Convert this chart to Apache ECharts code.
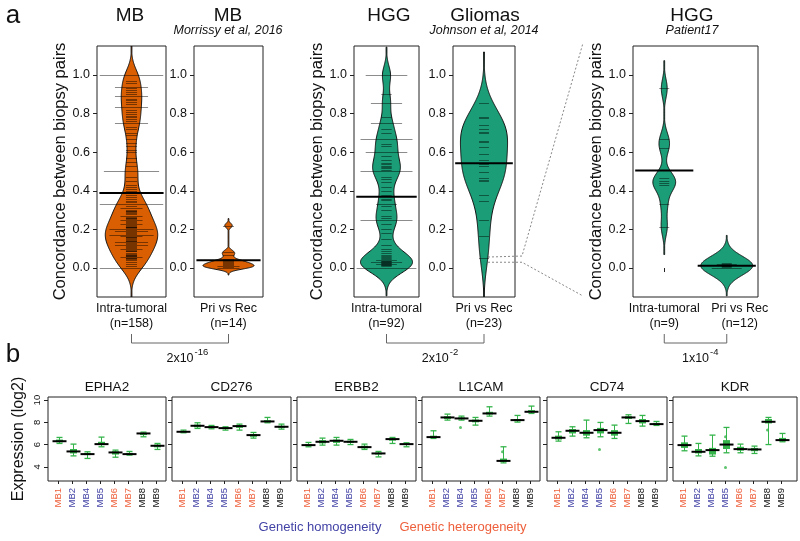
<!DOCTYPE html>
<html><head><meta charset="utf-8">
<script src="https://cdn.jsdelivr.net/npm/echarts@6/dist/echarts.min.js"></script>
<style>html,body{margin:0;padding:0;background:#fff}#c{width:800px;height:541px}</style>
</head><body><div id="c"></div>
<script>
// ---------------- DATA (panel a: concordance values per bean) ----------------
const mbIntra = [
 1,1,1,1,1,1, 0.97,0.96, 0.94,0.94,0.94, 0.93,0.92,0.91, 0.889,0.889,0.889, 0.9,0.875,0.87,0.86,
 0.833,0.833,0.833, 0.85,0.82,0.81,0.8,0.79,0.78, 0.77,0.76, 0.75,0.75,0.75, 0.73,0.72,0.7,0.69,
 0.667,0.65,0.63, 0.61,0.6, 0.57,0.55,0.53, 0.5,0.5,0.5,0.5,0.5, 0.47,0.45,0.43, 0.42,0.41,0.4,0.38, 0.37,0.36,
 0.333,0.333,0.333,0.333,0.333,0.333,
 0.345,0.34,0.32,0.31,0.3,0.295,0.293,0.29,0.285,0.28,
 0.27,0.265,0.26,0.259,0.255,0.25,0.25,0.245,0.24,0.235,0.23,0.225,
 0.22,0.215,0.212,0.21,0.205,0.2,0.2,0.2,0.195,0.19,0.19,0.19,0.185,0.18,
 0.175,0.17,0.17,0.17,0.17,0.165,0.16,0.159,0.155,0.15,0.145,0.14,0.138,0.133,0.133,0.133,0.13,
 0.125,0.12,0.12,0.115,0.11,0.105,0.1,0.1,0.095,0.09,0.086,0.08,0.075,
 0.07,0.065,0.064,0.06,0.055,0.052,0.05,0.045,0.04,
 0.03,0.02,0.01,0,0,0,0,0,0,
 0.31,0.27,0.23,0.2,0.165,0.12,0.055
];
const mbPriRec = [0.22,0.085,0.07,0.045,0.035,0.03,0.025,0.02,0.015,0.01,0.01,0.005,0,0];
const hggIntra = [
 1,1,1,1, 0.9, 0.857,0.857,0.857, 0.75,0.75,0.75, 0.78,0.72,0.7, 0.667,0.667,0.667,0.667,0.667,
 0.64,0.63, 0.6,0.6,0.6,0.6, 0.58,0.56,0.545,0.54,0.53,0.525,0.52,0.51, 0.5,0.5,0.5,0.5,0.5,
 0.47,0.46,0.445, 0.42,0.4, 0.38,0.36,0.35, 0.333,0.333, 0.32,0.3, 0.27,0.26, 0.25,0.25,0.25,0.25,0.25,
 0.23, 0.2,0.18,0.15,0.12,0.1,
 0.09,0.08,0.07,0.06,0.055,0.05,0.045,0.04,0.038,0.035,0.033,0.03,0.03,0.028,0.025,0.022,0.02,0.018,0.015,0.01,
 0,0,0,0,0,0, 0.03,0.02,0.04
];
const gliomaPriRec = [0.855,0.78,0.778,0.743,0.72,0.703,0.7,0.66,0.652,0.629,0.59,0.557,0.54,0.528,0.497,0.466,0.455,0.45,0.376,0.347,0.25,0.166,0.053];
const p17Intra = [0.93,0.667,0.623,0.468,0.45,0.44,0.43,0.33,0.214];
const p17PriRec = [0,0,0,0.005,0.01,0.012,0.015,0.018,0.02,0.02,0.022,0.025];

const catsMB = ['Intra-tumoral\n(n=158)'];
const catsMBPR = ['Pri vs Rec\n(n=14)'];
const catsHGG = ['Intra-tumoral\n(n=92)'];
const catsGli = ['Pri vs Rec\n(n=23)'];
const catsP17 = ['Intra-tumoral\n(n=9)', 'Pri vs Rec\n(n=12)'];
const yTicksA = [0, 0.2, 0.4, 0.6, 0.8, 1.0];
const pvals = [['2x10', '-16'], ['2x10', '-2'], ['1x10', '-4']];

// ---------------- DATA (panel b: expression, [min, q1, median, q3, max]) ----------------
const samples = ['MB1','MB2','MB4','MB5','MB6','MB7','MB8','MB9'];
const sampleGroup = ['het','hom','hom','hom','het','het','none','none'];
const genes = ['EPHA2','CD276','ERBB2','L1CAM','CD74','KDR'];
const epha2 = [[6.1,6.2,6.3,6.45,6.64],[4.98,5.2,5.38,5.6,6.04],[4.75,5.05,5.14,5.25,5.35],[5.8,5.95,6.04,6.25,6.67],
 [4.86,5.1,5.29,5.4,5.5],[5.05,5.1,5.14,5.25,5.38],[6.7,6.85,7.0,7.05,7.12],[5.56,5.75,5.89,6.0,6.1]];
const cd276 = [[7.06,7.1,7.15,7.22,7.3],[7.45,7.55,7.69,7.8,7.96],[7.42,7.5,7.57,7.65,7.72],[7.3,7.4,7.48,7.53,7.6],
 [7.3,7.5,7.66,7.75,7.84],[6.58,6.7,6.85,6.95,7.09],[7.96,8.0,8.08,8.2,8.44],[7.39,7.5,7.6,7.7,7.84]];
const erbb2 = [[5.8,5.9,5.95,6.05,6.19],[5.95,6.1,6.25,6.4,6.58],[5.95,6.15,6.34,6.45,6.64],[6.0,6.15,6.25,6.35,6.46],
 [5.56,5.65,5.77,5.9,6.04],[4.89,5.1,5.2,5.28,5.38],[6.1,6.35,6.49,6.55,6.64],[5.8,5.95,6.04,6.1,6.16]];
const l1cam = [[6.55,6.6,6.67,6.8,7.24],[8.2,8.3,8.44,8.55,8.74],[8.2,8.28,8.35,8.45,8.56],[7.75,8.0,8.14,8.25,8.44],
 [8.56,8.7,8.8,8.95,9.4],[4.35,4.45,4.53,4.74,5.8],[8.02,8.1,8.2,8.3,8.62],[8.8,8.9,8.95,9.1,9.46]];
const cd74 = [[6.31,6.45,6.61,6.8,7.15],[6.76,7.0,7.24,7.4,7.6],[6.61,6.8,7.06,7.3,8.2],[6.7,7.0,7.3,7.5,7.99],
 [6.55,6.8,7.06,7.3,7.75],[7.9,8.3,8.44,8.55,8.68],[7.66,7.9,8.11,8.3,8.62],[7.72,7.78,7.84,7.95,8.08]];
const kdr = [[5.44,5.7,5.95,6.2,6.76],[4.98,5.2,5.35,5.6,6.1],[4.95,5.1,5.5,5.7,6.85],[5.26,5.6,6.0,6.4,7.54],
 [5.26,5.45,5.59,5.8,6.04],[5.2,5.4,5.56,5.7,5.86],[6.0,7.9,8.05,8.3,8.44],[6.25,6.3,6.4,6.6,7.0]];
const geneData = [epha2, cd276, erbb2, l1cam, cd74, kdr];
// outlier points: [gene index, sample position (1-based), value]
const outliers = [[3,3,7.54],[3,6,5.35],[4,4,5.56],[5,4,3.93],[5,7,7.3],[5,4,6.7]];
const yTicksB = [4, 6, 8, 10];

// ---------------- STYLE ----------------
const FONT = '"Liberation Sans", Arial, Helvetica, sans-serif';
const ORANGE = '#D95F02', GREEN = '#1B9E77', BGREEN = '#34B44A';
const GROUPCOL = {het:'#EE5F3B', hom:'#4343A6', none:'#111111'};

const panelsA = [
  {left:97, width:69, cats:catsMB, beans:[mbIntra], bw:[0.05], color:ORANGE, maxw:0.76, yName:true},
  {left:194, width:69, cats:catsMBPR, beans:[mbPriRec], bw:[0.012], color:ORANGE, maxw:0.74, yName:false},
  {left:354, width:65, cats:catsHGG, beans:[hggIntra], bw:[0.048], color:GREEN, maxw:0.8, yName:true},
  {left:453, width:62, cats:catsGli, beans:[gliomaPriRec], bw:[0.088], color:GREEN, maxw:0.76, yName:false},
  {left:633, width:125, cats:catsP17, beans:[p17Intra, p17PriRec], bw:[0.048,0.048], color:GREEN, maxw:0.83, yName:true}
];
const A_TOP = 46, A_H = 251;
const B_TOP = 397, B_H = 84;
const panelsB = [
  {left:48, width:118},{left:172, width:119},{left:297, width:119},
  {left:422, width:118},{left:547, width:120},{left:673, width:124}
];

function kde(vals, bw) {
  const lo = Math.min(...vals) - 3*bw, hi = Math.max(...vals) + 3*bw;
  const N = 260, out = [];
  const norm = 1/(vals.length*bw*Math.sqrt(2*Math.PI));
  for (let i = 0; i <= N; i++) {
    const y = lo + (hi-lo)*i/N; let s = 0;
    for (const v of vals) { const z = (y-v)/bw; s += Math.exp(-0.5*z*z); }
    out.push([y, s*norm]);
  }
  return out;
}
function uniqCounts(vals) {
  const m = new Map();
  vals.forEach(v => { const k = Math.round(v*1000)/1000; m.set(k, (m.get(k)||0)+1); });
  return Array.from(m.entries());
}

const grids = [], xAxes = [], yAxes = [], series = [];

panelsA.forEach((p, gi) => {
  grids.push({left:p.left, top:A_TOP, width:p.width, height:A_H, show:true, borderColor:'#222', borderWidth:1, backgroundColor:'transparent'});
  xAxes.push({type:'category', gridIndex:gi, data:p.cats, boundaryGap:true,
    axisLine:{show:false}, axisTick:{show:true, alignWithLabel:true, length:4, lineStyle:{color:'#222'}},
    axisLabel:{fontFamily:FONT, fontSize:12.5, color:'#111', lineHeight:15, margin:4, interval:0,
      formatter: (v, i) => (gi === 4 && i === 1) ? v.split('\n').map(s => '{s|' + s + '}').join('\n') : v,
      rich:{s:{padding:[0,0,0,26], fontFamily:FONT, fontSize:12.5, color:'#111', lineHeight:15}}},
    splitLine:{show:false}});
  yAxes.push({type:'value', gridIndex:gi, min:-0.15, max:1.15,
    axisLine:{show:false}, splitLine:{show:false},
    axisTick:{show:true, length:4, customValues:yTicksA, lineStyle:{color:'#222'}},
    axisLabel:{customValues:yTicksA, formatter: v => v.toFixed(1), fontFamily:FONT, fontSize:12.5, color:'#111', margin:7},
    name: p.yName ? 'Concordance between biopsy pairs' : '', nameLocation:'middle', nameGap:25,
    nameTextStyle:{fontFamily:FONT, fontSize:16.5, color:'#111'}});
  const dens = p.beans.map((b, j) => kde(b, p.bw[j]));
  let maxD = 0; dens.forEach(d => d.forEach(q => { if (q[1] > maxD) maxD = q[1]; }));
  p.beans.forEach((vals, j) => {
    const dj = dens[j];
    series.push({type:'custom', xAxisIndex:gi, yAxisIndex:gi, clip:true, silent:true, z:2,
      data:[[j, 0]],
      renderItem:(params, api) => {
        const band = api.size([1, 0])[0];
        const cx = api.coord([j, 0])[0];
        const L = [], R = [];
        dj.forEach(([y, d]) => {
          const py = api.coord([j, y])[1];
          const hw = Math.max(0.4, d/maxD*band*p.maxw/2);
          L.push([cx-hw, py]); R.push([cx+hw, py]);
        });
        return {type:'polygon', shape:{points:L.concat(R.reverse())}, style:{fill:p.color, stroke:'#111', lineWidth:1}};
      }});
    series.push({type:'custom', xAxisIndex:gi, yAxisIndex:gi, clip:true, silent:true, z:3,
      data: uniqCounts(vals).map(([v, c]) => [j, v, c]),
      renderItem:(params, api) => {
        const band = api.size([1, 0])[0];
        const c = api.coord([api.value(0), api.value(1)]);
        const len = Math.min(api.value(2)*0.16, 0.92)*band;
        const y = Math.round(c[1]) + 0.5;
        return {type:'line', shape:{x1:c[0]-len/2, y1:y, x2:c[0]+len/2, y2:y}, style:{stroke:'rgba(0,0,0,0.45)', lineWidth:1}};
      }});
    const mean = vals.reduce((a, b) => a + b, 0)/vals.length;
    series.push({type:'custom', xAxisIndex:gi, yAxisIndex:gi, clip:true, silent:true, z:4,
      data:[[j, mean]],
      renderItem:(params, api) => {
        const band = api.size([1, 0])[0];
        const c = api.coord([api.value(0), api.value(1)]);
        const len = 0.93*band;
        return {type:'line', shape:{x1:c[0]-len/2, y1:c[1], x2:c[0]+len/2, y2:c[1]}, style:{stroke:'#000', lineWidth:2}};
      }});
  });
});

const sampleTicks = samples.map((s, i) => i + 1);
panelsB.forEach((p, k) => {
  const gi = panelsA.length + k;
  grids.push({left:p.left, top:B_TOP, width:p.width, height:B_H, show:true, borderColor:'#222', borderWidth:1, backgroundColor:'transparent'});
  xAxes.push({type:'value', gridIndex:gi, min:0.25, max:0.25 + p.width/14,
    axisLine:{show:false}, splitLine:{show:false},
    axisTick:{show:true, customValues:sampleTicks, length:3, lineStyle:{color:'#222'}},
    axisLabel:{customValues:sampleTicks, rotate:90, margin:7,
      formatter: v => { const i = Math.round(v) - 1; return '{' + sampleGroup[i] + '|' + samples[i] + '}'; },
      rich:{
        het:{color:GROUPCOL.het, fontFamily:FONT, fontSize:9.5},
        hom:{color:GROUPCOL.hom, fontFamily:FONT, fontSize:9.5},
        none:{color:GROUPCOL.none, fontFamily:FONT, fontSize:9.5}}}});
  yAxes.push({type:'value', gridIndex:gi, min:2.72, max:10.28,
    axisLine:{show:false}, splitLine:{show:false},
    axisTick:{show:true, customValues:yTicksB, length:4, lineStyle:{color:'#222'}},
    axisLabel:{show:k === 0, customValues:yTicksB, rotate:90, fontFamily:FONT, fontSize:9.5, color:'#111', margin:6},
    name: k === 0 ? 'Expression (log2)' : '', nameLocation:'middle', nameGap:21,
    nameTextStyle:{fontFamily:FONT, fontSize:16, color:'#111'}});
  series.push({type:'custom', xAxisIndex:gi, yAxisIndex:gi, silent:true, z:3,
    data: geneData[k].map((a, i) => [i + 1].concat(a)),
    renderItem:(params, api) => {
      const x = api.value(0);
      const pMin = api.coord([x, api.value(1)]), pQ1 = api.coord([x, api.value(2)]),
            pMed = api.coord([x, api.value(3)]), pQ3 = api.coord([x, api.value(4)]), pMax = api.coord([x, api.value(5)]);
      const cx = Math.round(pMed[0]) + 0.5;
      return {type:'group', children:[
        {type:'line', shape:{x1:cx, y1:pMin[1], x2:cx, y2:pMax[1]}, style:{stroke:BGREEN, lineWidth:1}},
        {type:'line', shape:{x1:cx-3, y1:pMin[1], x2:cx+3, y2:pMin[1]}, style:{stroke:BGREEN, lineWidth:1.3}},
        {type:'line', shape:{x1:cx-3, y1:pMax[1], x2:cx+3, y2:pMax[1]}, style:{stroke:BGREEN, lineWidth:1.3}},
        {type:'rect', shape:{x:cx-3.5, y:pQ3[1], width:7, height:Math.max(1, pQ1[1]-pQ3[1])}, style:{fill:BGREEN}},
        {type:'line', shape:{x1:cx-7, y1:pMed[1], x2:cx+7, y2:pMed[1]}, style:{stroke:'#000', lineWidth:2}}
      ]};
    }});
  series.push({type:'scatter', xAxisIndex:gi, yAxisIndex:gi, silent:true, z:4, symbolSize:3,
    itemStyle:{color:BGREEN},
    data: outliers.filter(o => o[0] === k).map(o => [o[1], o[2]])});
});

const chart = echarts.init(document.getElementById('c'), null, {renderer:'canvas'});
chart.setOption({animation:false, backgroundColor:'#fff', grid:grids, xAxis:xAxes, yAxis:yAxes, series:series});

// ---------------- annotations ----------------
function txt(x, y, text, size, opts) {
  opts = opts || {};
  const al = opts.align || 'center';
  return {type:'text', x:x, y:y, silent:true, z:10, style:{text:text,
    font:(opts.italic ? 'italic ' : '') + size + 'px ' + FONT, fill:opts.color || '#111',
    align:al, verticalAlign:'middle', textAlign:al, textVerticalAlign:'middle'}};
}
const px = (gi, x, y) => chart.convertToPixel({xAxisIndex:gi, yAxisIndex:gi}, [x, y]);
const g = [];
g.push(txt(13, 16, 'a', 26), txt(13, 355, 'b', 26));
g.push(txt(130, 16, 'MB', 19), txt(228, 16, 'MB', 19), txt(228, 31, 'Morrissy et al, 2016', 12.5, {italic:true}));
g.push(txt(389, 16, 'HGG', 19), txt(485, 16, 'Gliomas', 19), txt(484, 31, 'Johnson et al, 2014', 12.5, {italic:true}));
g.push(txt(692, 16, 'HGG', 19), txt(692, 31, 'Patient17', 12.5, {italic:true}));
const brackets = [[[0,0],[1,0]], [[2,0],[3,0]], [[4,0],[4,1]]];
brackets.forEach((b, i) => {
  const x1 = px(b[0][0], b[0][1], 0)[0], x2 = px(b[1][0], b[1][1], 0)[0];
  g.push({type:'polyline', silent:true, shape:{points:[[x1,334],[x1,343],[x2,343],[x2,334]]}, style:{stroke:'#666', lineWidth:1, fill:null}});
  const mid = (x1 + x2)/2;
  g.push(txt(mid, 359, pvals[i][0], 12.5), txt(mid + 14.5, 352, pvals[i][1], 9.5, {align:'left'}));
});
// dotted zoom lines from Gliomas bean to Patient17 panel
const gl = px(3, 0, 0.057), gl2 = px(3, 0, 0.03);
g.push({type:'polyline', silent:true, shape:{points:[[gl[0]+4, gl[1]],[522, gl[1]-1],[583, 43]]}, style:{stroke:'#888', lineWidth:1, lineDash:[2,2], fill:null}});
g.push({type:'polyline', silent:true, shape:{points:[[gl2[0]+4, gl2[1]],[522, gl2[1]],[583, 296]]}, style:{stroke:'#888', lineWidth:1, lineDash:[2,2], fill:null}});
panelsB.forEach((p, k) => g.push(txt(p.left + p.width/2, 387, genes[k], 13.5)));
g.push(txt(320, 527, 'Genetic homogeneity', 13, {color:GROUPCOL.hom}));
g.push(txt(463, 527, 'Genetic heterogeneity', 13, {color:GROUPCOL.het}));
chart.setOption({graphic:g});
</script></body></html>
